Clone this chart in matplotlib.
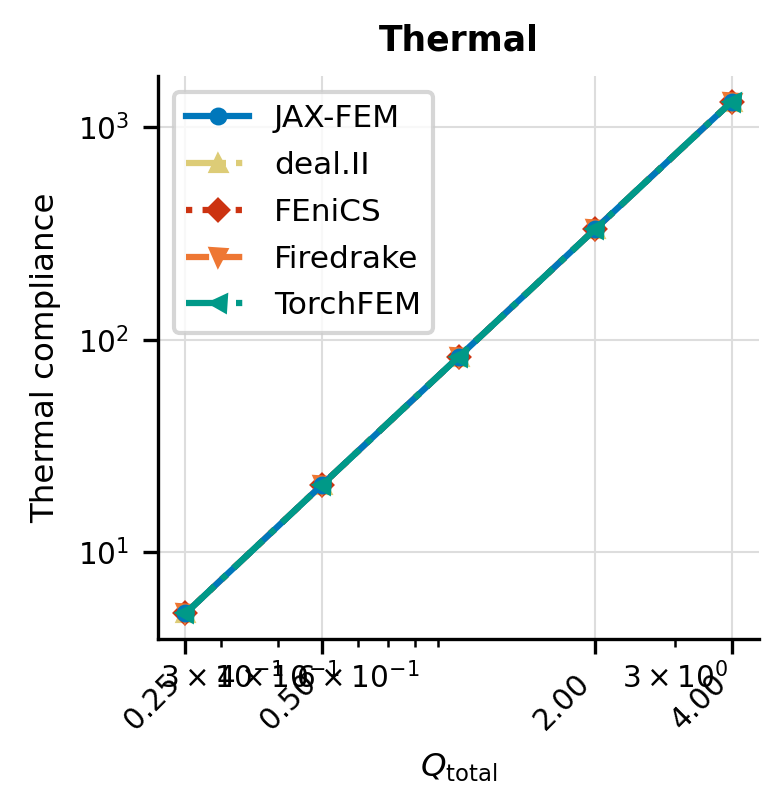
import matplotlib
matplotlib.use("Agg")
import matplotlib.pyplot as plt
from matplotlib.ticker import LogFormatterSciNotation, NullLocator

# ---- data ----
q_total = [0.25, 0.5, 1.0, 2.0, 4.0]
jax_fem = [5.17, 20.8, 83.0, 331.0, 1315.0]
deal_ii = [5.17, 20.8, 83.0, 331.0, 1315.0]
fenics = [5.17, 20.8, 83.0, 331.0, 1315.0]
firedrake = [5.17, 20.8, 83.0, 331.0, 1315.0]
torchfem = [5.17, 20.8, 83.0, 331.0, 1315.0]

series_names = ["JAX-FEM", "deal.II", "FEniCS", "Firedrake", "TorchFEM"]
xtick_vals = [0.25, 0.5, 2.0, 4.0]
xtick_labels = ["0.25", "0.50", "2.00", "4.00"]

colors = ["#0077BB", "#DDCC77", "#CC3311", "#EE7733", "#009988"]
styles = ["-", "-.", ":", "--", "-."]
markers = ["o", "^", "D", "v", "<"]
msizes = [3.3, 3.6, 3.3, 3.6, 3.6]
zorders = [2.6, 2.1, 2.2, 2.3, 2.8]

plt.rcParams['font.family'] = ['DejaVu Sans']
fig = plt.figure(figsize=(783 / 300, 811 / 300), dpi=300)
ax = fig.add_axes([0.2020, 0.2121, 0.7675, 0.6942])

for name, ys, c, ls, mk, ms, z in zip(series_names,
                                      [jax_fem, deal_ii, fenics, firedrake, torchfem],
                                      colors, styles, markers, msizes, zorders):
    ax.plot(q_total, ys, linestyle=ls, marker=mk, color=c, lw=1.5, ms=ms,
            label=name, zorder=z)

ax.set_xscale("log")
ax.set_yscale("log")
ax.set_xticks(xtick_vals)
ax.set_xticklabels(xtick_labels, rotation=45, ha="right")
ax.xaxis.set_minor_formatter(LogFormatterSciNotation(labelOnlyBase=False, minor_thresholds=(2, 0.4)))
ax.yaxis.set_minor_locator(NullLocator())
ax.tick_params(labelsize=7.1, which="both")

ax.grid(True, which="major", color="#dddddd", lw=0.5)
ax.set_axisbelow(True)
for s in ["top", "right"]:
    ax.spines[s].set_visible(False)

ax.set_xlabel(r"$Q_{\mathrm{total}}$", fontsize=7.8)
ax.set_ylabel("Thermal compliance", fontsize=7.8)
ax.set_title("Thermal", fontsize=8.3, fontweight="bold")
ax.legend(loc="upper left", fontsize=7.5, labelspacing=0.57)

fig.savefig("out.png", dpi=300)
